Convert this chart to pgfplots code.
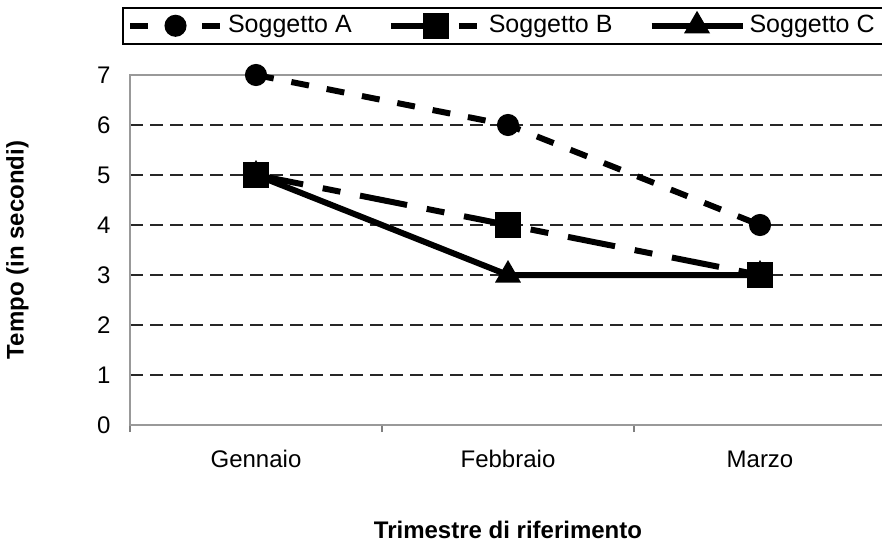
\documentclass[border=0pt]{standalone}
\usepackage{pgfplots}
\pgfplotsset{compat=1.18}
\usetikzlibrary{calc}
\usepackage{fontspec}
\setmainfont{Liberation Sans}

\begin{document}
\begin{tikzpicture}
\begin{axis}[
  name=plot,
  scale only axis,
  width=378pt, height=175pt,
  xmin=-0.5, xmax=2.5,
  ymin=0, ymax=7,
  xtick={0,1,2},
  xticklabels={Gennaio,Febbraio,Marzo},
  major x tick style={draw=none},
  minor xtick={-0.5,0.5,1.5,2.5},
  minor x tick style={gray, line width=1pt},
  minor tick length=3.5pt,
  tick align=outside,
  xtick pos=bottom,
  ytick={0,...,7},
  ytick pos=left,
  major y tick style={draw=none},
  ymajorgrids,
  grid style={black!85, line width=0.9pt, dash pattern=on 6.5pt off 3.5pt},
  axis line style={gray!80, line width=1.2pt},
  font=\fontsize{12}{14}\selectfont,
  ticklabel style={font=\fontsize{12}{14}\selectfont},
  /pgf/number format/assume math mode=true,
  yticklabel style={xshift=-2pt},
  xticklabel style={yshift=-5pt, text height=1.6ex, text depth=0.3ex},
  xlabel={\textbf{Trimestre di riferimento}},
  ylabel={\textbf{Tempo (in secondi)}},
  xlabel style={at={(axis description cs:0.5,-0.30)}, anchor=center},
  ylabel style={at={(axis description cs:-0.149,0.5)}, anchor=center},
  legend columns=3,
  reverse legend,
  legend style={at={(axis description cs:0,1)}, anchor=south west,
    xshift=-4pt, yshift=15pt, draw=black, line width=1pt,
    font=\fontsize{12.5}{14}\selectfont, inner sep=2pt,
    /tikz/every even column/.append style={column sep=16pt}},
  legend image code/.code={
    \draw[mark repeat=2,mark phase=2] plot coordinates {(0cm,0cm) (0.8cm,0cm) (1.6cm,0cm)};
  },
]
\addplot[black, line width=3pt,
  mark=triangle*, mark size=4.5pt, mark options={solid}] coordinates {(0,5) (1,3) (2,3)};
\addlegendentry{Soggetto C}
\addplot[black, line width=3pt, dash pattern=on 24pt off 10pt on 9pt off 10pt,
  mark=square*, mark size=5pt, mark options={solid}] coordinates {(0,5) (1,4) (2,3)};
\addlegendentry{Soggetto B}
\addplot[black, line width=3pt, dash pattern=on 9pt off 9pt,
  mark=*, mark size=4pt, mark options={solid}] coordinates {(0,7) (1,6) (2,4)};
\addlegendentry{Soggetto A}
\end{axis}
\pgfresetboundingbox
\path[use as bounding box] ($(plot.south west)+(-65pt,-61pt)$) rectangle ($(plot.north west)+(376pt,37.5pt)$);
\end{tikzpicture}
\end{document}
